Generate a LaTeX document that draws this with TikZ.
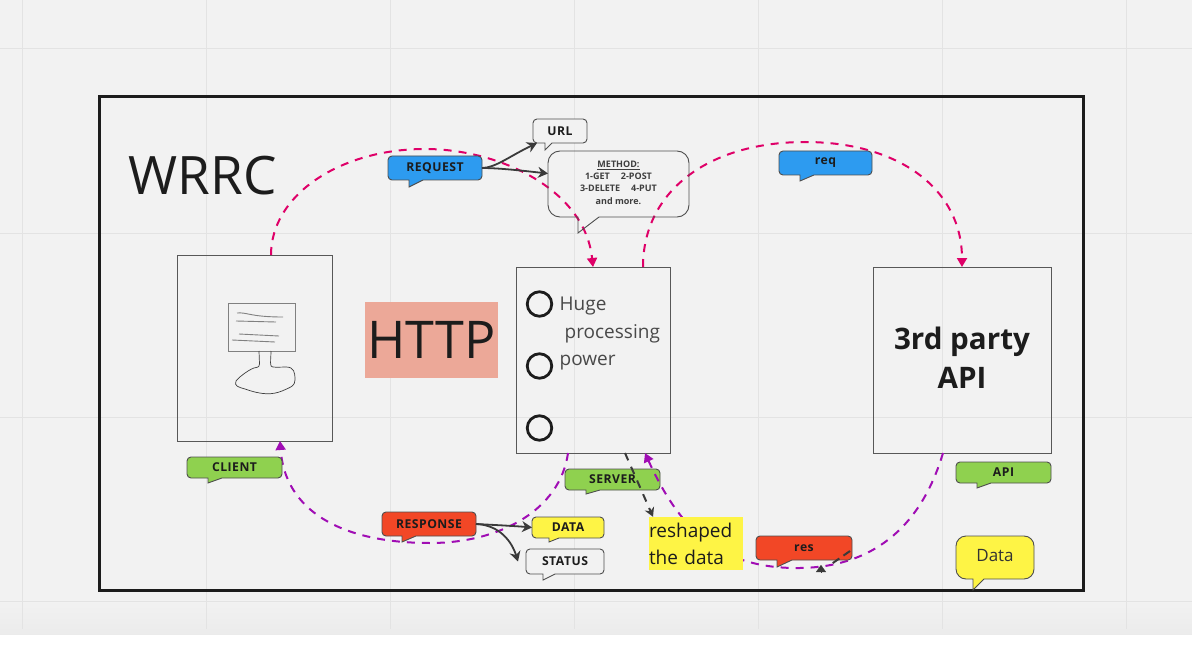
\documentclass[tikz,border=0pt]{standalone}
\usepackage{fontspec}
\setmainfont{Open Sans}
\newfontfamily\tagfont[LetterSpace=4]{Open Sans}
\usetikzlibrary{arrows.meta}
\definecolor{bgc}{HTML}{F2F2F2}
\definecolor{gridc}{HTML}{E3E3E3}
\definecolor{pinkc}{HTML}{DF0068}
\definecolor{purpc}{HTML}{A00DB4}
\definecolor{darkc}{HTML}{3A3A3A}
\definecolor{inkc}{HTML}{1C1C1C}
\definecolor{bluec}{HTML}{2D9BF0}
\definecolor{greenc}{HTML}{8FD14F}
\definecolor{redc}{HTML}{F24726}
\definecolor{yelc}{HTML}{FEF445}
\definecolor{salmc}{HTML}{ECA898}
\tikzset{
  gridline/.style={gridc,line width=1pt},
  panel/.style={draw=darkc!85,line width=1pt,inner sep=0pt,outer sep=0pt},
  pinkflow/.style={pinkc,line width=2pt,dash pattern=on 8pt off 7pt,-{Triangle[length=9pt,width=10pt]}},
  purpflow/.style={purpc,line width=2pt,dash pattern=on 8pt off 7pt,-{Triangle[length=9pt,width=10pt]}},
  darkflow/.style={darkc,line width=2pt,dash pattern=on 8pt off 7pt,-{Stealth[length=9pt,width=10pt]}},
  darkarrow/.style={darkc,line width=1.8pt,-{Stealth[length=10pt,width=11pt]}},
  calloutline/.style={draw=darkc!90,line width=.9pt},
  tagtext/.style={font=\tagfont\bfseries\fontsize{12.2}{14}\selectfont,text=inkc,inner sep=0pt,outer sep=0pt},
  sketch/.style={inkc!85,line width=.7pt,line join=round},
  sketchbar/.style={gray,line width=.9pt},
}
% name, x1,y1,x2,y2, tail left x, tail right x, tail tip y, fill, text
\newcommand{\callout}[9]{%
  \draw[calloutline,fill=#9,rounded corners=4pt]
    ({(#2+#4)/2},#3) -- (#4,#3) -- (#4,#5)
    [sharp corners] -- (#7,#5) -- (#6,#8) -- (#6,#5)
    [rounded corners=4pt] -- (#2,#5) -- (#2,#3) -- cycle;
  \node[minimum width={(#4-#2)*1pt},minimum height={(#5-#3)*1pt},tagtext] (#1) at ({(#2+#4)/2},{(#3+#5)/2})}
\begin{document}
\begin{tikzpicture}[x=1pt,y=-1pt]
\useasboundingbox (0,0) rectangle (1192,666);
\fill[white] (0,0) rectangle (1192,666);
\fill[bgc] (0,0) rectangle (1192,600);
\shade[top color=bgc,bottom color=gridc!70] (0,600) rectangle (1192,634);
\foreach \gx in {22,206,390,574,758,942,1126} \draw[gridline] (\gx,0) -- (\gx,629);
\foreach \gy in {49,233,417,601} \draw[gridline] (0,\gy) -- (1192,\gy);
% frame
\draw[inkc,line width=3pt] (99.5,97) rectangle (1083.5,590);
\node[font=\fontsize{53}{60}\selectfont,text=inkc,inner sep=0pt] (title) at (202.5,176) {WRRC};
% HTTP
\node[fill=salmc,minimum width=133pt,minimum height=76pt,inner sep=0pt,font=\fontsize{52}{60}\selectfont,text=inkc] (http) at (431.5,340) {HTTP};
% panels
\node[panel,minimum width=155pt,minimum height=186pt] (client) at (254.5,348) {};
\node[panel,minimum width=154pt,minimum height=186pt] (server) at (593,360) {};
\node[panel,minimum width=178pt,minimum height=186pt] (api) at (962,360) {};
\node[font=\bfseries\fontsize{29.6}{39}\selectfont,text=inkc,align=center,inner sep=0pt] (apititle) at (962,357.5) {3rd party\\API};
% monitor sketch
\draw[sketchbar,fill=bgc] (228,303.5) rectangle (295,351);
\draw[sketchbar] (237,313) .. controls (247,312) and (250,317) .. (283,317);
\draw[sketchbar] (236,321) -- (276,322);
\draw[sketchbar] (239,334) -- (279,336);
\draw[sketchbar] (232,340) -- (275,342);
\draw[sketch] (259,351) -- (259.5,364) .. controls (259,368) and (257,367) .. (254,368)
  .. controls (248,370) and (238,378) .. (236,381)
  .. controls (234,386) and (238,387) .. (245,389)
  .. controls (262,395) and (272,395) .. (282,391)
  .. controls (291,387) and (295,386) .. (295,380)
  .. controls (295,372) and (294,367) .. (286,367)
  .. controls (280,367) and (272,368) .. (271,366)
  .. controls (270,362) and (271,358) .. (271,351);
% bullets and text in server
\foreach \cn/\cy in {ba/304,bb/366,bc/428}
  \node[circle,draw=inkc,line width=2.8pt,minimum size=24.5pt,inner sep=0pt] (\cn) at (539.5,\cy) {};
\node[anchor=north west,inner sep=0pt,align=left,text=inkc!80,font=\fontsize{19}{27.5}\selectfont] (hpp) at (559.5,297) {Huge\\\hspace*{5pt}processing\\power};
% pink flows
\draw[pinkflow] ([xshift=16.5pt]client.north) .. controls (271,195) and (340,149) .. (425,149) .. controls (500,149) and (585,190) .. (server.north);
\draw[pinkflow] ([xshift=50pt]server.north) .. controls (643,190) and (710,142) .. (805,142) .. controls (900,142) and (962,190) .. (api.north);
% server tag sits under the purple flow
\callout{servertag}{565}{469}{660}{490}{586}{600}{494}{greenc}{SERVER};
% purple flows
\draw[purpflow] ([xshift=-25pt]server.south) .. controls (560,510) and (500,543) .. (430,543) .. controls (340,543) and (285,510) .. ([xshift=25.5pt]client.south);
\draw[purpflow] ([xshift=-19pt]api.south) .. controls (920,530) and (870,567) .. (800,568) .. controls (720,569) and (680,530) .. ([xshift=52pt]server.south);
% reshaped note
\node[fill=yelc,minimum width=94pt,minimum height=53pt,inner sep=0pt,font=\fontsize{19}{27}\selectfont,text=inkc,align=left,text width=94pt] (note) at (696,543.5) {reshaped\\the data};
\draw[darkflow] ([xshift=32pt]server.south) -- ([xshift=-43pt]note.north);
% tags
\callout{request}{388}{156}{482}{180}{409}{423}{187}{bluec}{REQUEST};
\callout{url}{533}{119}{587}{143}{545}{552}{150}{bgc}{URL};
\draw[calloutline,rounded corners=12pt]
  (618,151) -- (689,151) -- (689,217) [sharp corners] -- (599,217) -- (578,233) -- (578,217)
  [rounded corners=12pt] -- (548,217) -- (548,151) -- cycle;
\node[minimum width=141pt,minimum height=66pt,inner sep=0pt,outer sep=0pt,align=center,font=\bfseries\fontsize{9}{12.2}\selectfont,text=inkc!85] (method) at (618.5,182.5) {\underline{METHOD:}\\1-GET\hspace{11pt}2-POST\\3-DELETE\hspace{11pt}4-PUT\\and more.};
\callout{req}{779}{151}{872}{175}{800}{814}{181}{bluec}{req};
\callout{clienttag}{187}{457}{282}{478}{208}{222}{483}{greenc}{CLIENT};
\callout{apitag}{956}{462}{1051}{483}{977}{991}{488}{greenc}{API};
\callout{response}{382}{512}{476}{536}{402}{416}{542}{redc}{RESPONSE};
\callout{datatag}{532}{517}{604}{538}{549}{559}{542}{yelc}{DATA};
\callout{status}{526}{549}{604}{574}{543}{555}{580}{bgc}{STATUS};
\callout{res}{756}{536}{852}{560}{777}{792}{567}{redc}{res};
\draw[calloutline,fill=yelc,rounded corners=10pt]
  (995,536) -- (1034,536) -- (1034,579) [sharp corners] -- (984,579) -- (973,590) -- (973,579)
  [rounded corners=10pt] -- (956,579) -- (956,536) -- cycle;
\node[inner sep=0pt,font=\fontsize{17}{20}\selectfont,text=inkc!90] (datanote) at (995,556) {Data};
% dark arrows
\draw[darkarrow] (request.east) .. controls (495,168) and (510,156) .. ([xshift=4pt]url.south west);
\draw[darkarrow] (request.east) .. controls (500,168) and (525,171) .. ([yshift=9pt]method.west);
\draw[darkarrow] (response.east) .. controls (495,525) and (515,526) .. (datatag.west);
\draw[darkarrow] (response.east) .. controls (500,525) and (512,542) .. ([xshift=-8pt]status.west);
\coordinate (rese) at (821,565);
\draw[darkc,line width=2pt,dash pattern=on 8pt off 5pt] ([yshift=-3pt,xshift=-2pt]res.east) -- (830,565);
\draw[darkc,line width=.1pt,-{Triangle[length=7pt,width=10pt]},fill=darkc] ([yshift=-7pt]rese) -- (rese);
\end{tikzpicture}
\end{document}
